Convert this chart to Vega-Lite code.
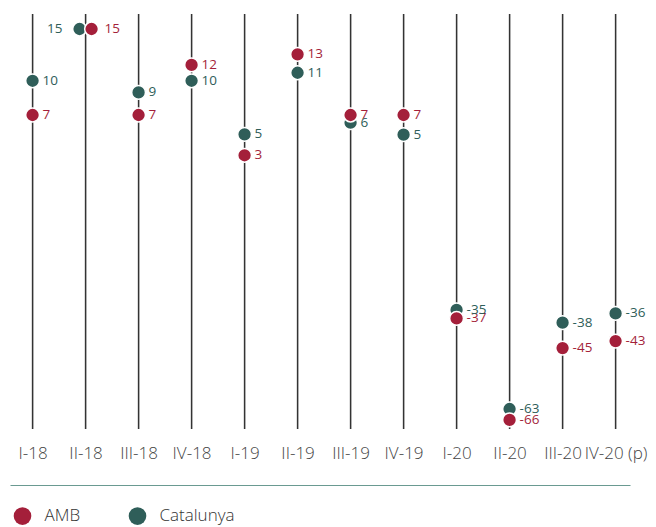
{
  "$schema": "https://vega.github.io/schema/vega-lite/v6.json",
  "width": 620,
  "height": 415,
  "autosize": "none",
  "padding": {"left": 10, "top": 14, "right": 26, "bottom": 98},
  "background": "white",
  "config": {
    "view": {"stroke": null},
    "font": "Open Sans",
    "locale": {"number": {"decimal": ".", "thousands": ",", "grouping": [3], "currency": ["", ""], "minus": "-"}}
  },
  "data": {
    "values": [
      {"q": "I-18", "series": "AMB", "value": 6.86},
      {"q": "I-18", "series": "Catalunya", "value": 10.1},
      {"q": "II-18", "series": "AMB", "value": 15},
      {"q": "II-18", "series": "Catalunya", "value": 15},
      {"q": "III-18", "series": "AMB", "value": 6.86},
      {"q": "III-18", "series": "Catalunya", "value": 9.0},
      {"q": "IV-18", "series": "AMB", "value": 11.6},
      {"q": "IV-18", "series": "Catalunya", "value": 10.1},
      {"q": "I-19", "series": "AMB", "value": 3.05},
      {"q": "I-19", "series": "Catalunya", "value": 5.03},
      {"q": "II-19", "series": "AMB", "value": 12.6},
      {"q": "II-19", "series": "Catalunya", "value": 10.86},
      {"q": "III-19", "series": "AMB", "value": 6.86},
      {"q": "III-19", "series": "Catalunya", "value": 6.13},
      {"q": "IV-19", "series": "AMB", "value": 6.86},
      {"q": "IV-19", "series": "Catalunya", "value": 5.0},
      {"q": "I-20", "series": "AMB", "value": -37.0},
      {"q": "I-20", "series": "Catalunya", "value": -34.6},
      {"q": "II-20", "series": "AMB", "value": -65.7},
      {"q": "II-20", "series": "Catalunya", "value": -62.6},
      {"q": "III-20", "series": "AMB", "value": -45.4},
      {"q": "III-20", "series": "Catalunya", "value": -38.2},
      {"q": "IV-20 (p)", "series": "AMB", "value": -43.4},
      {"q": "IV-20 (p)", "series": "Catalunya", "value": -35.6}
    ]
  },
  "encoding": {
    "x": {
      "field": "q", "type": "nominal", "sort": null,
      "scale": {"type": "point", "padding": 0.349, "align": 0.61},
      "axis": {
        "title": null, "labelAngle": 0, "ticks": false, "tickSize": 0,
        "offset": 56, "labelPadding": -32, "labelBaseline": "middle",
        "labelFontSize": 17, "labelFontWeight": 300, "labelColor": "#444", "labelFont": "Open Sans",
        "domainColor": "#6a9a91", "domainWidth": 1.2, "grid": false
      }
    }
  },
  "layer": [
    {
      "mark": {"type": "rule", "color": "#333", "strokeWidth": 1.3},
      "encoding": {}
    },
    {
      "transform": [{"filter": "datum.series == 'Catalunya' && datum.q != 'II-18'"}],
      "mark": {"type": "point", "filled": true, "opacity": 1, "size": 190, "stroke": "white", "strokeWidth": 1.5},
      "encoding": {
        "y": {"field": "value", "type": "quantitative", "axis": null,
              "scale": {"domain": [-66, 0, 15], "range": [407, 173.5, 15], "nice": false, "zero": false}},
        "color": {"field": "series", "type": "nominal",
                  "scale": {"domain": ["AMB", "Catalunya"], "range": ["#A41F3A", "#2F5E59"]},
                  "legend": {"title": null, "orient": "none", "direction": "horizontal", "legendX": 3.5, "legendY": 493,
                             "symbolType": "circle", "symbolSize": 310, "symbolStrokeWidth": 0, "symbolOpacity": 1,
                             "labelFontSize": 17, "labelFontWeight": 300, "labelFont": "Open Sans", "labelColor": "#333",
                             "labelOffset": 13, "columnPadding": 48, "padding": 0}}
      }
    },
    {
      "transform": [{"filter": "datum.series == 'Catalunya' && datum.q == 'II-18'"}],
      "mark": {"type": "point", "filled": true, "opacity": 1, "size": 190, "stroke": "white", "strokeWidth": 1.5, "xOffset": -6},
      "encoding": {
        "y": {"field": "value", "type": "quantitative"},
        "color": {"field": "series", "type": "nominal"}
      }
    },
    {
      "transform": [{"filter": "datum.series == 'AMB' && datum.q != 'II-18'"}],
      "mark": {"type": "point", "filled": true, "opacity": 1, "size": 190, "stroke": "white", "strokeWidth": 1.5},
      "encoding": {
        "y": {"field": "value", "type": "quantitative"},
        "color": {"field": "series", "type": "nominal"}
      }
    },
    {
      "transform": [{"filter": "datum.series == 'AMB' && datum.q == 'II-18'"}],
      "mark": {"type": "point", "filled": true, "opacity": 1, "size": 190, "stroke": "white", "strokeWidth": 1.5, "xOffset": 6},
      "encoding": {
        "y": {"field": "value", "type": "quantitative"},
        "color": {"field": "series", "type": "nominal"}
      }
    },
    {
      "transform": [{"filter": "datum.q != 'II-18'"}],
      "mark": {"type": "text", "align": "left", "baseline": "middle", "dx": 10, "fontSize": 13.5, "font": "Open Sans"},
      "encoding": {
        "y": {"field": "value", "type": "quantitative"},
        "text": {"field": "value", "type": "quantitative", "format": ".0f"},
        "color": {"field": "series", "type": "nominal", "legend": null}
      }
    },
    {
      "transform": [{"filter": "datum.q == 'II-18' && datum.series == 'Catalunya'"}],
      "mark": {"type": "text", "align": "right", "baseline": "middle", "dx": -23, "fontSize": 13.5, "font": "Open Sans"},
      "encoding": {
        "y": {"field": "value", "type": "quantitative"},
        "text": {"field": "value", "type": "quantitative", "format": ".0f"},
        "color": {"field": "series", "type": "nominal", "legend": null}
      }
    },
    {
      "transform": [{"filter": "datum.q == 'II-18' && datum.series == 'AMB'"}],
      "mark": {"type": "text", "align": "left", "baseline": "middle", "dx": 19, "fontSize": 13.5, "font": "Open Sans"},
      "encoding": {
        "y": {"field": "value", "type": "quantitative"},
        "text": {"field": "value", "type": "quantitative", "format": ".0f"},
        "color": {"field": "series", "type": "nominal", "legend": null}
      }
    }
  ]
}
